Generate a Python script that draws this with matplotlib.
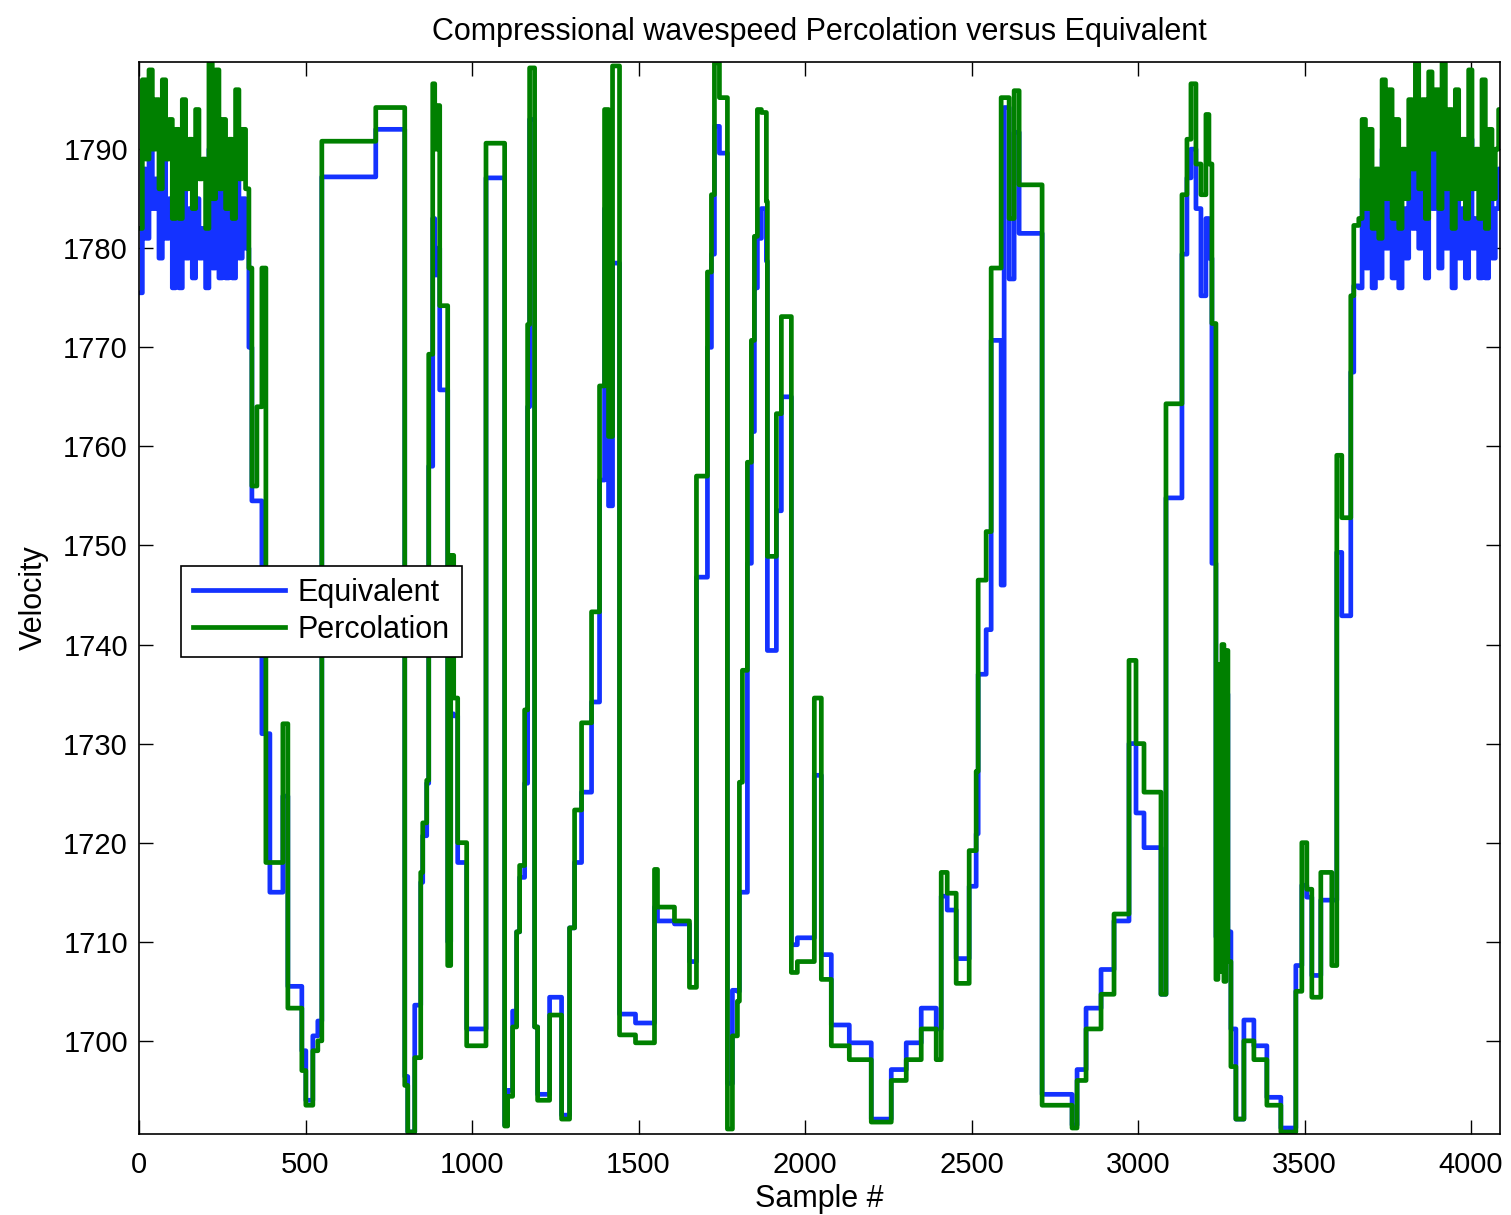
import matplotlib
matplotlib.use("Agg")
import matplotlib.pyplot as plt
import numpy as np

n_samples = 4087

# noisy high-velocity stretch at the start of the log (sample spacing 10)
head_starts = np.arange(0, 330, 10)
head_perc = [1782, 1797, 1789, 1798, 1790, 1795, 1786, 1797, 1789, 1793, 1783,
             1792, 1783, 1795, 1786, 1791, 1784, 1794, 1787, 1789, 1782, 1798.7,
             1785, 1798, 1786, 1793, 1784, 1791, 1783, 1796, 1787, 1792, 1786]
head_equiv = [1775.5, 1788, 1781, 1791, 1784, 1787, 1779, 1789, 1781, 1785, 1776,
              1783, 1776, 1787, 1779, 1784, 1777, 1785, 1779, 1782, 1776, 1790,
              1778, 1789, 1777, 1786, 1777, 1784, 1777, 1787, 1779, 1785, 1780]

# blocky middle section: (first sample, percolation, equivalent)
mid_starts = [330, 339, 354, 369, 381, 393, 432, 447, 489, 501, 522, 537, 549, 711,
              798, 807, 828, 846, 852, 864, 870, 882, 888, 894, 903, 927, 936, 945,
              957, 984, 1042, 1098, 1107, 1122, 1134, 1143, 1158, 1167, 1173, 1188,
              1197, 1233, 1269, 1293, 1308, 1329, 1359, 1383, 1398, 1410, 1422, 1443,
              1491, 1548, 1557, 1608, 1653, 1674, 1707, 1719, 1728, 1743, 1767, 1782,
              1797, 1803, 1812, 1827, 1839, 1848, 1857, 1869, 1884, 1887, 1914, 1929,
              1959, 1977, 2028, 2049, 2079, 2133, 2199, 2259, 2304, 2349, 2394, 2409,
              2427, 2454, 2493, 2514, 2520, 2544, 2559, 2589, 2598, 2613, 2628, 2643,
              2712, 2802, 2817, 2844, 2889, 2928, 2973, 2994, 3018, 3069, 3084, 3132,
              3147, 3159, 3174, 3189, 3204, 3213, 3222, 3234, 3240, 3246, 3252, 3258,
              3264, 3270, 3279, 3294, 3318, 3348, 3387, 3429, 3474, 3492, 3507, 3522,
              3549, 3582, 3597, 3612, 3639, 3648]
mid_perc = [1778, 1756, 1764, 1778, 1718, 1718, 1732, 1703.3, 1697, 1693.5, 1699, 1700,
            1790.8, 1794.2, 1695.5, 1690.8, 1698.3, 1717, 1722, 1726.3, 1769.3, 1796.6,
            1790, 1794.4, 1774.2, 1707.6, 1749, 1734.6, 1720, 1699.5, 1790.6, 1691.4,
            1694.4, 1701.4, 1711, 1717.7, 1733.4, 1772.3, 1798.2, 1701.4, 1694, 1702.6,
            1692.1, 1711.4, 1723.3, 1732.1, 1743.3, 1766.1, 1794, 1761, 1798.4, 1700.6,
            1699.8, 1717.3, 1713.5, 1712.1, 1705.4, 1757, 1777.6, 1785.4, 1798.7, 1795.2,
            1691.1, 1700.5, 1704, 1726.1, 1737.4, 1758.4, 1770.7, 1781.2, 1794, 1793.7,
            1784.7, 1748.9, 1763.3, 1773.1, 1706.9, 1708, 1734.6, 1706.2, 1699.5, 1698.1,
            1691.8, 1696, 1698.1, 1701.2, 1698.1, 1717, 1714.9, 1705.8, 1719.2, 1727.2,
            1746.5, 1751.4, 1778, 1795.2, 1795.2, 1783, 1795.9, 1786.4, 1693.5, 1691.2,
            1696, 1701.2, 1704.7, 1712.8, 1738.4, 1730, 1725.1, 1704.7, 1764.3, 1785.4,
            1791, 1796.6, 1788.5, 1785.4, 1793.5, 1788.5, 1772.4, 1706.2, 1738, 1707,
            1740, 1706, 1739.4, 1708, 1697.4, 1692.1, 1700, 1698.1, 1693.5, 1690.8,
            1705, 1720, 1715.3, 1704.4, 1717, 1707.6, 1759.1, 1752.8, 1775.2, 1782.3]
mid_equiv = [1770, 1754.5, 1754.5, 1731, 1731, 1715, 1724.7, 1705.5, 1699, 1694, 1700.5,
             1702, 1787.2, 1792, 1696.4, 1690.8, 1703.6, 1716, 1720.7, 1726, 1758, 1783,
             1777.3, 1780, 1765.7, 1710, 1733, 1732.8, 1718, 1701.2, 1787.1, 1691.5,
             1695, 1703, 1711, 1716.5, 1726, 1764, 1793, 1701.4, 1694.6, 1704.4, 1692.5,
             1711.4, 1718, 1725.1, 1734.2, 1756.6, 1784, 1754, 1778.5, 1702.7, 1701.8,
             1713.5, 1712.1, 1711.8, 1708, 1746.8, 1770, 1779.4, 1792.3, 1789.6, 1695.7,
             1705.1, 1705, 1715, 1715, 1748.2, 1761.5, 1776, 1781, 1784, 1778.7, 1739.4,
             1753.5, 1765, 1709.7, 1710.4, 1726.8, 1708.7, 1701.6, 1699.8, 1692.1, 1697.1,
             1699.8, 1703.3, 1701.2, 1714.6, 1713.2, 1708.3, 1715.6, 1720.9, 1737, 1741.5,
             1770.7, 1746, 1794.2, 1776.9, 1791.7, 1781.5, 1694.6, 1691.5, 1697.1, 1703.3,
             1707.2, 1712.1, 1730, 1723, 1719.5, 1704.7, 1754.8, 1779.4, 1787.1, 1790,
             1784, 1775.2, 1783, 1779, 1748.2, 1710.5, 1734, 1709, 1736, 1710.5, 1735,
             1711, 1701.2, 1692.1, 1702.1, 1699.5, 1694.3, 1691.2, 1707.6, 1715.7, 1714.5,
             1706.6, 1714.2, 1714.2, 1749.3, 1742.9, 1767.5, 1776.2]

# noisy high-velocity stretch at the end of the log (sample spacing 10)
tail_starts = np.arange(3663, n_samples, 10)
tail_perc = [1783, 1793, 1784, 1792, 1782, 1788, 1781, 1797, 1785, 1796, 1783, 1793,
             1782, 1790, 1785, 1795, 1788, 1798.7, 1786, 1795, 1783, 1797.8, 1790, 1796,
             1784, 1798.7, 1786, 1794, 1782, 1796, 1785, 1791, 1783, 1798, 1786, 1790,
             1783, 1797, 1782, 1792, 1785, 1790, 1794]
tail_equiv = [1776, 1787, 1778, 1786, 1776, 1782, 1777, 1790, 1780, 1789, 1777, 1786,
              1776, 1784, 1779, 1788, 1782, 1793, 1780, 1789, 1777, 1791, 1784, 1790,
              1778, 1792, 1780, 1787, 1776, 1789, 1779, 1784, 1777, 1791, 1780, 1783,
              1777, 1788, 1777, 1786, 1779, 1784, 1788]


def expand(starts, values, n):
    """Turn piecewise-constant blocks into one value per sample."""
    starts = np.asarray(starts)
    lengths = np.diff(np.append(starts, n))
    return np.repeat(np.asarray(values, dtype=float), lengths)


starts = np.concatenate([head_starts, mid_starts, tail_starts])
percolation = expand(starts, head_perc + mid_perc + tail_perc, n_samples)
equivalent = expand(starts, head_equiv + mid_equiv + tail_equiv, n_samples)
sample = np.arange(n_samples)

plt.rcParams["font.family"] = ["Liberation Sans", "DejaVu Sans"]
fig = plt.figure(figsize=(15.11, 12.15), dpi=100)
ax = fig.add_axes([0.092, 0.0667, 0.9007, 0.8823])

ax.plot(sample, equivalent, color="#1432ff", lw=3.4, drawstyle="steps-post",
        label="Equivalent")
ax.plot(sample, percolation, color="#008000", lw=3.4, drawstyle="steps-post",
        label="Percolation")

ax.set_xlim(0, n_samples)
ax.set_ylim(1690.6, 1798.8)
ax.set_xticks(np.arange(0, 4001, 500))
ax.set_yticks(np.arange(1700, 1791, 10))
ax.tick_params(direction="in", length=10, width=1, labelsize=21,
               top=True, right=True)
ax.tick_params(axis="x", pad=12)
ax.tick_params(axis="y", pad=8)
for spine in ax.spines.values():
    spine.set_linewidth(1.2)

ax.set_title("Compressional wavespeed Percolation versus Equivalent",
             fontsize=22, pad=16)
ax.set_xlabel("Sample #", fontsize=22, labelpad=4)
ax.set_ylabel("Velocity", fontsize=22, labelpad=10)

leg = ax.legend(loc="upper left", bbox_to_anchor=(0.0309, 0.530), fontsize=22,
                handlelength=3.0, handletextpad=0.4, borderpad=0.4,
                labelspacing=0.22, fancybox=False, framealpha=1, borderaxespad=0)
leg.get_frame().set_edgecolor("black")
leg.get_frame().set_linewidth(1.2)

fig.savefig("out.png", dpi=100)
